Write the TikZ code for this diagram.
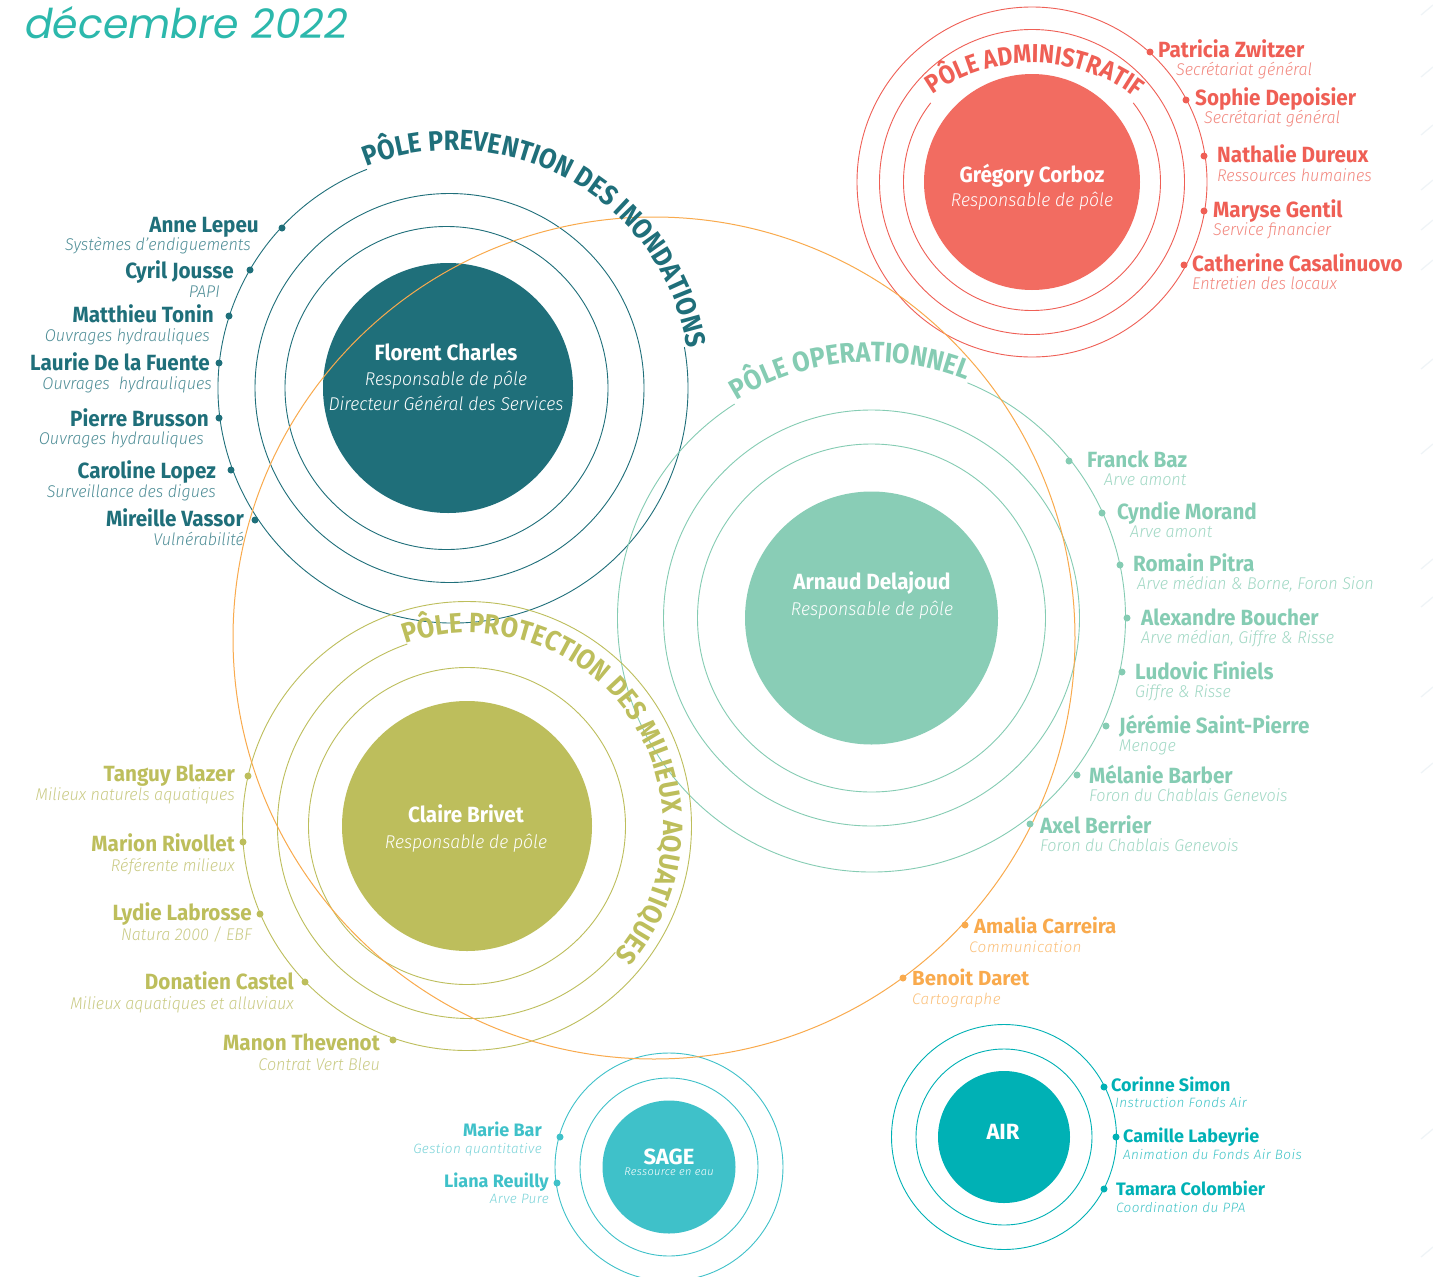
\documentclass[tikz,border=0pt]{standalone}
\usepackage{fontspec}
\setmainfont{Fira Sans}
\newfontfamily\fnc{Fira Sans}[FakeStretch=0.94]
\newfontfamily\fna{Fira Sans}[FakeStretch=0.9]
\newfontfamily\fnd{Fira Sans}[FakeStretch=0.88]
\newfontfamily\fnr{Fira Sans}
\newfontfamily\fsc{Fira Sans Light Italic}[FakeStretch=0.95]
\newfontfamily\fsr{Fira Sans Light Italic}[LetterSpace=3]
\newfontfamily\ftitle{Poppins}
\usetikzlibrary{decorations.text,calc}
\definecolor{prev}{HTML}{1F6F7A}
\definecolor{prevL}{HTML}{4F8E97}
\definecolor{adm}{HTML}{EF5F55}
\definecolor{admL}{HTML}{F2877E}
\definecolor{admD}{HTML}{F26C61}
\definecolor{ope}{HTML}{85CCB3}
\definecolor{opeL}{HTML}{A0D8C4}
\definecolor{opeD}{HTML}{89CDB6}
\definecolor{pro}{HTML}{BDBE5C}
\definecolor{proL}{HTML}{CACB85}
\definecolor{orn}{HTML}{F9AA4D}
\definecolor{ornL}{HTML}{FBC07A}
\definecolor{sage}{HTML}{3FC1C9}
\definecolor{sageL}{HTML}{79D3D8}
\definecolor{air}{HTML}{00B1B5}
\definecolor{airL}{HTML}{40C4C7}
\definecolor{ttl}{HTML}{2CB8AC}
\definecolor{faint}{HTML}{EFF4F7}
\newcommand\fNameC{\fnc\bfseries\fontsize{22}{24}\selectfont}
\newcommand\fSubC{\fsc\fontsize{17}{19}\selectfont}
\newcommand\fNameR{\fnr\bfseries\fontsize{18}{20}\selectfont}
\newcommand\fSubR{\fsr\fontsize{13.5}{15}\selectfont}
\newcommand\fNameO{\fnr\bfseries\fontsize{20.4}{22}\selectfont}
\newcommand\fSubO{\fsr\fontsize{15.3}{17}\selectfont}
\newcommand\fDisk{\fnc\bfseries\fontsize{22}{24}\selectfont}
\newcommand\fDiskSub{\fsc\fontsize{18.5}{20}\selectfont}
\newcommand\fArc{\fna\bfseries\fontsize{28}{30}\selectfont}
\newcommand\fArcA{\fnd\bfseries\fontsize{26}{28}\selectfont}
\begin{document}
\begin{tikzpicture}[x=1pt,y=1pt,
  ring/.style={line width=0.9pt},
  faintline/.style={faint,line width=1.2pt},
  disk/.style={circle,inner sep=0pt,draw=none},
  dotn/.style={circle,inner sep=0pt,minimum size=7pt,draw=none},
  nmE/.style={anchor=base east,inner sep=0pt,font=\fNameC},
  nmW/.style={anchor=base west,inner sep=0pt,font=\fNameC},
  sbE/.style={anchor=base east,inner sep=0pt,font=\fSubC},
  sbW/.style={anchor=base west,inner sep=0pt,font=\fSubC},
  nrE/.style={anchor=base east,inner sep=0pt,font=\fNameR},
  nrW/.style={anchor=base west,inner sep=0pt,font=\fNameR},
  srE/.style={anchor=base east,inner sep=0pt,font=\fSubR},
  srW/.style={anchor=base west,inner sep=0pt,font=\fSubR},
  noW/.style={anchor=base west,inner sep=0pt,font=\fNameO},
  soW/.style={anchor=base west,inner sep=0pt,font=\fSubO},
  dkn/.style={anchor=base,inner sep=0pt,text=white,font=\fDisk},
  dks/.style={anchor=base,inner sep=0pt,text=white,font=\fDiskSub}]
\fill[white] (0,0) rectangle (1433,-1277);
\useasboundingbox (0,0) rectangle (1433,-1277);

% faint background strokes at the right edge
\foreach \yy in {8,70,128,183,223,263,362,447,562,600,690,766,1132,1250}
  \draw[faintline] (1421,-\yy-7) -- (1433,-\yy+3);

% title
\node[anchor=base west,inner sep=0pt,text=ttl,font=\ftitle\itshape\fontsize{41}{44}\selectfont] (title) at (25,-38) {décembre 2022};

% centres
\coordinate (pc) at (448,-388);
\coordinate (pc1) at (446.5,-388);
\coordinate (pc2) at (449.5,-388);
\coordinate (pc3) at (453,-388);
\coordinate (ac) at (1032,-182);
\coordinate (at) at (1032,-236);
\coordinate (oc) at (871.5,-618);
\coordinate (rc) at (467,-826);
\coordinate (rc2) at (470,-826);
\coordinate (gc) at (654,-638);
\coordinate (sc) at (669,-1167);
\coordinate (xc) at (1004,-1137);

% ---------- rings ----------
% Prevention
\draw[ring,prev] (pc1) circle[radius=161.5];
\draw[ring,prev] (pc2) circle[radius=194.5];
\draw[ring,prev] ($(pc3)+(111.5:235)$) arc[start angle=111.5,end angle=370,radius=235];
% Administratif
\draw[ring,adm] ($(ac)+(142:128.5)$) arc[start angle=142,end angle=398,radius=128.5];
\draw[ring,adm] (ac) circle[radius=152.5];
\draw[ring,adm] (ac) circle[radius=175];
% Operationnel
\draw[ring,ope] (oc) circle[radius=174];
\draw[ring,ope] (oc) circle[radius=208];
\draw[ring,ope] ($(oc)+(122.6:254)$) arc[start angle=122.6,end angle=427.8,radius=254];
% Protection
\draw[ring,pro] (rc) circle[radius=158.5];
\draw[ring,pro] ($(rc2)+(109:192.5)$) arc[start angle=109,end angle=319,radius=192.5];
\draw[ring,pro] (rc) circle[radius=224.5];
% SAGE
\draw[ring,sage] (sc) circle[radius=89];
\draw[ring,sage] (sc) circle[radius=114];
% AIR
\draw[ring,air] (xc) circle[radius=88];
\draw[ring,air] (xc) circle[radius=112.5];

% ---------- disks ----------
\node[disk,fill=prev,minimum size=250pt] (pdisk) at (pc) {};
\node[disk,fill=admD,minimum size=216pt] (adisk) at (ac) {};
\node[disk,fill=opeD,minimum size=253pt] (odisk) at (oc) {};
\node[disk,fill=pro,minimum size=250pt] (rdisk) at (rc) {};
\node[disk,fill=sage,minimum size=133pt] (sdisk) at (sc) {};
\node[disk,fill=air,minimum size=132pt] (xdisk) at (xc) {};

% orange circle
\draw[line width=1pt,orn] (gc) circle[radius=421];

% ---------- curved titles ----------
\path[decorate,decoration={text along path,text align=center,
  text={|\fArc\color{prev}|PÔLE PREVENTION DES INONDATIONS}}]
  ($(pc3)+(122:238)$) arc[start angle=122,end angle=-1,radius=238];
\path[decorate,decoration={text along path,text align=center,
  text={|\fArcA\color{adm}|PÔLE ADMINISTRATIF}}]
  ($(at)+(136:173)$) arc[start angle=136,end angle=42,radius=173];
\path[decorate,decoration={text along path,text align=center,
  text={|\fArc\color{ope}|PÔLE OPERATIONNEL}}]
  ($(oc)+(133:256)$) arc[start angle=133,end angle=57,radius=256];
\path[decorate,decoration={text along path,text align=center,
  text={|\fArc\color{pro}|PÔLE PROTECTION DES MILIEUX AQUATIQUES}}]
  ($(rc2)+(120:193)$) arc[start angle=120,end angle=-52,radius=193];

% ---------- disk labels ----------
\node[dkn] (pname) at (446,-360) {Florent Charles};
\node[dks] (prole) at (446,-385) {Responsable de pôle};
\node[dks] (prole2) at (446,-410) {Directeur Général des Services};
\node[dkn] (aname) at (1032,-182) {Grégory Corboz};
\node[dks] (arole) at (1032,-206) {Responsable de pôle};
\node[dkn] (oname) at (872,-589) {Arnaud Delajoud};
\node[dks] (orole) at (872,-615) {Responsable de pôle};
\node[dkn] (rname) at (466,-822) {Claire Brivet};
\node[dks] (rrole) at (466,-848) {Responsable de pôle};
\node[anchor=base,inner sep=0pt,text=white,font=\fnr\bfseries\fontsize{22}{24}\selectfont] (sname) at (669,-1164) {SAGE};
\node[anchor=base,inner sep=0pt,text=white,font=\fsr\fontsize{11}{12}\selectfont] (srole) at (669,-1175) {Ressource en eau};
\node[anchor=base,inner sep=0pt,text=white,font=\fnr\bfseries\fontsize{22}{24}\selectfont] (xname) at (1003,-1139) {AIR};

% ---------- Prevention members ----------
\node[dotn,fill=prev] (pd1) at (282,-228) {};
\node[nmE,text=prev] (pn1) at (259,-232) {Anne Lepeu};
\node[sbE,text=prevL] (ps1) at (251,-250) {Systèmes d’endiguements};
\node[dotn,fill=prev] (pd2) at (250,-270) {};
\node[nmE,text=prev] (pn2) at (234,-278) {Cyril Jousse};
\node[sbE,text=prevL] (ps2) at (220,-297) {PAPI};
\node[dotn,fill=prev] (pd3) at (229,-316) {};
\node[nmE,text=prev] (pn3) at (214,-322) {Matthieu Tonin};
\node[sbE,text=prevL] (ps3) at (210,-341) {Ouvrages hydrauliques};
\node[dotn,fill=prev] (pd4) at (219,-363) {};
\node[nmE,text=prev] (pn4) at (210,-370) {Laurie De la Fuente};
\node[sbE,text=prevL] (ps4) at (212,-389) {Ouvrages\ \ hydrauliques};
\node[dotn,fill=prev] (pd5) at (219,-418) {};
\node[nmE,text=prev] (pn5) at (209,-426) {Pierre Brusson};
\node[sbE,text=prevL] (ps5) at (204,-444) {Ouvrages hydrauliques};
\node[dotn,fill=prev] (pd6) at (231,-470) {};
\node[nmE,text=prev] (pn6) at (216,-478) {Caroline Lopez};
\node[sbE,text=prevL] (ps6) at (216,-497) {Surveillance des digues};
\node[dotn,fill=prev] (pd7) at (255,-520) {};
\node[nmE,text=prev] (pn7) at (244,-526) {Mireille Vassor};
\node[sbE,text=prevL] (ps7) at (244,-545) {Vulnérabilité};

% ---------- Administratif members ----------
\node[dotn,fill=adm] (ad1) at (1150,-52) {};
\node[nmW,text=adm] (an1) at (1158,-57) {Patricia Zwitzer};
\node[sbW,text=admL] (as1) at (1176,-75) {Secrétariat général};
\node[dotn,fill=adm] (ad2) at (1186,-100) {};
\node[nmW,text=adm] (an2) at (1195,-105) {Sophie Depoisier};
\node[sbW,text=admL] (as2) at (1204,-123) {Secrétariat général};
\node[dotn,fill=adm] (ad3) at (1204,-156) {};
\node[nmW,text=adm] (an3) at (1217,-162) {Nathalie Dureux};
\node[sbW,text=admL] (as3) at (1217,-181) {Ressources humaines};
\node[dotn,fill=adm] (ad4) at (1204,-211) {};
\node[nmW,text=adm] (an4) at (1213,-217) {Maryse Gentil};
\node[sbW,text=admL] (as4) at (1213,-235) {Service financier};
\node[dotn,fill=adm] (ad5) at (1184,-265) {};
\node[nmW,text=adm] (an5) at (1192,-271) {Catherine Casalinuovo};
\node[sbW,text=admL] (as5) at (1192,-289) {Entretien des locaux};

% ---------- Operationnel members ----------
\node[dotn,fill=ope] (od1) at (1069,-461) {};
\node[nmW,text=ope] (on1) at (1087,-467) {Franck Baz};
\node[sbW,text=opeL] (os1) at (1104,-485) {Arve amont};
\node[dotn,fill=ope] (od2) at (1102,-513) {};
\node[nmW,text=ope] (on2) at (1117,-519) {Cyndie Morand};
\node[sbW,text=opeL] (os2) at (1130,-537) {Arve amont};
\node[dotn,fill=ope] (od3) at (1120,-565) {};
\node[nmW,text=ope] (on3) at (1133,-571) {Romain Pitra};
\node[sbW,text=opeL] (os3) at (1137,-589) {Arve médian \& Borne, Foron Sion};
\node[dotn,fill=ope] (od4) at (1127,-618) {};
\node[nmW,text=ope] (on4) at (1141,-625) {Alexandre Boucher};
\node[sbW,text=opeL] (os4) at (1141,-643) {Arve médian, Giffre \& Risse};
\node[dotn,fill=ope] (od5) at (1122,-672) {};
\node[nmW,text=ope] (on5) at (1135,-679) {Ludovic Finiels};
\node[sbW,text=opeL] (os5) at (1135,-697) {Giffre \& Risse};
\node[dotn,fill=ope] (od6) at (1106,-726) {};
\node[nmW,text=ope] (on6) at (1119,-733) {Jérémie Saint-Pierre};
\node[sbW,text=opeL] (os6) at (1119,-751) {Menoge};
\node[dotn,fill=ope] (od7) at (1077,-775) {};
\node[nmW,text=ope] (on7) at (1089,-783) {Mélanie Barber};
\node[sbW,text=opeL] (os7) at (1089,-801) {Foron du Chablais Genevois};
\node[dotn,fill=ope] (od8) at (1030,-824) {};
\node[nmW,text=ope] (on8) at (1040,-833) {Axel Berrier};
\node[sbW,text=opeL] (os8) at (1040,-851) {Foron du Chablais Genevois};

% ---------- Protection members ----------
\node[dotn,fill=pro] (rd1) at (248,-776) {};
\node[nmE,text=pro] (rn1) at (235,-781) {Tanguy Blazer};
\node[sbE,text=proL] (rs1) at (235,-800) {Milieux naturels aquatiques};
\node[dotn,fill=pro] (rd2) at (243,-842) {};
\node[nmE,text=pro] (rn2) at (235,-851) {Marion Rivollet};
\node[sbE,text=proL] (rs2) at (235,-871) {Référente milieux};
\node[dotn,fill=pro] (rd3) at (260,-914) {};
\node[nmE,text=pro] (rn3) at (252,-920) {Lydie Labrosse};
\node[sbE,text=proL] (rs3) at (252,-940) {Natura 2000 / EBF};
\node[dotn,fill=pro] (rd4) at (305,-982) {};
\node[nmE,text=pro] (rn4) at (294,-989) {Donatien Castel};
\node[sbE,text=proL] (rs4) at (294,-1009) {Milieux aquatiques et alluviaux};
\node[dotn,fill=pro] (rd5) at (393,-1040) {};
\node[nmE,text=pro] (rn5) at (380,-1050) {Manon Thevenot};
\node[sbE,text=proL] (rs5) at (380,-1070) {Contrat Vert Bleu};

% ---------- transverse (orange) ----------
\node[dotn,fill=orn] (gd1) at (965,-925) {};
\node[noW,text=orn] (gn1) at (974,-933) {Amalia Carreira};
\node[soW,text=ornL] (gs1) at (969,-952) {Communication};
\node[dotn,fill=orn] (gd2) at (903,-978) {};
\node[noW,text=orn] (gn2) at (912,-985) {Benoit Daret};
\node[soW,text=ornL] (gs2) at (912,-1004) {Cartographe};

% ---------- SAGE ----------
\node[dotn,fill=sage] (sd1) at (560,-1137) {};
\node[nrE,text=sage] (sn1) at (542,-1136) {Marie Bar};
\node[srE,text=sageL] (ss1) at (542,-1153) {Gestion quantitative};
\node[dotn,fill=sage] (sd2) at (557,-1183) {};
\node[nrE,text=sage] (sn2) at (549,-1187) {Liana Reuilly};
\node[srE,text=sageL] (ss2) at (549,-1203) {Arve Pure};

% ---------- AIR ----------
\node[dotn,fill=air] (xd1) at (1104,-1087) {};
\node[nrW,text=air] (xn1) at (1111,-1091) {Corinne Simon};
\node[srW,text=airL] (xs1) at (1115,-1107) {Instruction Fonds Air};
\node[dotn,fill=air] (xd2) at (1116,-1137) {};
\node[nrW,text=air] (xn2) at (1123,-1142) {Camille Labeyrie};
\node[srW,text=airL] (xs2) at (1123,-1159) {Animation du Fonds Air Bois};
\node[dotn,fill=air] (xd3) at (1104,-1189) {};
\node[nrW,text=air] (xn3) at (1116,-1195) {Tamara Colombier};
\node[srW,text=airL] (xs3) at (1116,-1212) {Coordination du PPA};
\end{tikzpicture}
\end{document}
